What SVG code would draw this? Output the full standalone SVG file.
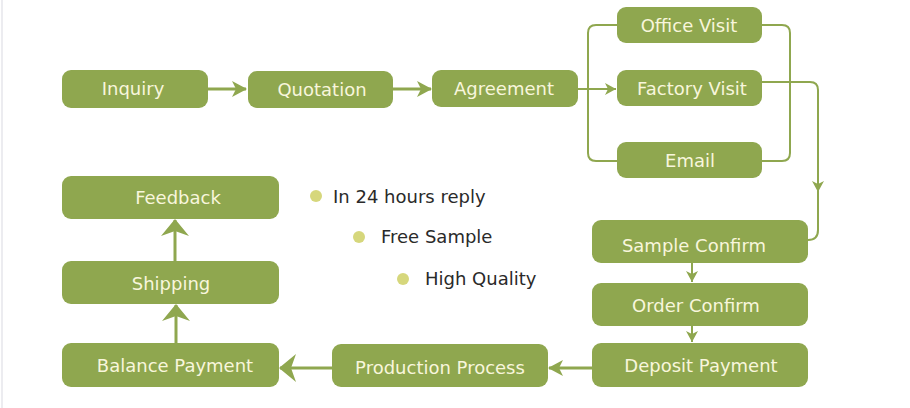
<svg xmlns="http://www.w3.org/2000/svg" width="910" height="408" viewBox="0 0 910 408">
<style>
.box{fill:#8fa74f}
.lbl{font-family:"DejaVu Sans","Liberation Sans",sans-serif;font-size:18px;fill:#f8f6dc;text-anchor:middle;dominant-baseline:central}
.txt{font-family:"DejaVu Sans","Liberation Sans",sans-serif;font-size:18px;fill:#2a2a2a}
.ln{fill:none;stroke:#8fa74f;stroke-width:3}
.thin{fill:none;stroke:#8fa74f;stroke-width:2}
.dot{fill:#d6d77c}
</style>
<defs>
<marker id="ah" markerUnits="userSpaceOnUse" markerWidth="16" markerHeight="18" refX="14" refY="9" orient="auto">
<path d="M0,1 L15,9 L0,17 L4,9 z" fill="#8fa74f"/>
</marker>
<marker id="ahBig" markerUnits="userSpaceOnUse" markerWidth="18" markerHeight="30" refX="16" refY="15" orient="auto">
<path d="M0,1 L17,15 L0,29 L5,15 z" fill="#8fa74f"/>
</marker>
<marker id="ahSm" markerUnits="userSpaceOnUse" markerWidth="12" markerHeight="14" refX="11" refY="7" orient="auto">
<path d="M0,1 L11,7 L0,13 L3,7 z" fill="#8fa74f"/>
</marker>
</defs>
<rect width="910" height="408" fill="#ffffff"/>
<line x1="2" y1="0" x2="2" y2="408" stroke="#ececf0" stroke-width="2"/>

<g id="connectors">
<line class="ln" x1="208" y1="89" x2="246" y2="89" marker-end="url(#ah)"/>
<line class="ln" x1="393" y1="89" x2="431" y2="89" marker-end="url(#ah)"/>
<line class="thin" x1="578" y1="89" x2="616" y2="89" marker-end="url(#ahSm)"/>
<path class="thin" d="M617,25 H596 Q588,25 588,33 V153 Q588,161 596,161 H617"/>
<path class="thin" d="M762,25 H782 Q790,25 790,33 V153 Q790,161 782,161 H762"/>
<path class="thin" d="M762,82 H810 Q818,82 818,90 V192" marker-end="url(#ahSm)"/>
<path class="thin" d="M818,188 V230 Q818,240 808,240"/>
<line class="thin" x1="692" y1="263" x2="692" y2="282" marker-end="url(#ahSm)"/>
<line class="thin" x1="692" y1="326" x2="692" y2="342" marker-end="url(#ahSm)"/>
<line class="ln" x1="592" y1="368" x2="549" y2="368" marker-end="url(#ah)"/>
<line class="ln" x1="332" y1="368" x2="280" y2="368" marker-end="url(#ahBig)"/>
<line class="ln" x1="176" y1="343" x2="176" y2="305" marker-end="url(#ahBig)"/>
<line class="ln" x1="175" y1="261" x2="175" y2="220" marker-end="url(#ahBig)"/>
</g>

<g id="inquiry"><rect class="box" x="62" y="70" width="146" height="38" rx="9"/><text class="lbl" x="133" y="88">Inquiry</text></g>
<g id="quotation"><rect class="box" x="248" y="71" width="145" height="37" rx="9"/><text class="lbl" x="322" y="89">Quotation</text></g>
<g id="agreement"><rect class="box" x="432" y="70" width="146" height="37" rx="9"/><text class="lbl" x="504" y="88">Agreement</text></g>
<g id="office-visit"><rect class="box" x="617" y="7" width="145" height="36" rx="9"/><text class="lbl" x="689" y="25">Office Visit</text></g>
<g id="factory-visit"><rect class="box" x="617" y="70" width="145" height="36" rx="9"/><text class="lbl" x="692" y="88">Factory Visit</text></g>
<g id="email"><rect class="box" x="617" y="142" width="145" height="36" rx="9"/><text class="lbl" x="690" y="160">Email</text></g>
<g id="sample-confirm"><rect class="box" x="592" y="220" width="216" height="43" rx="9"/><text class="lbl" x="694" y="245">Sample Confirm</text></g>
<g id="order-confirm"><rect class="box" x="592" y="283" width="216" height="43" rx="9"/><text class="lbl" x="696" y="305">Order Confirm</text></g>
<g id="deposit-payment"><rect class="box" x="592" y="343" width="216" height="44" rx="9"/><text class="lbl" x="701" y="365">Deposit Payment</text></g>
<g id="production-process"><rect class="box" x="332" y="344" width="216" height="43" rx="9"/><text class="lbl" x="440" y="367">Production Process</text></g>
<g id="balance-payment"><rect class="box" x="62" y="343" width="217" height="44" rx="9"/><text class="lbl" x="175" y="365">Balance Payment</text></g>
<g id="shipping"><rect class="box" x="62" y="261" width="217" height="43" rx="9"/><text class="lbl" x="171" y="283">Shipping</text></g>
<g id="feedback"><rect class="box" x="62" y="176" width="217" height="43" rx="9"/><text class="lbl" x="178" y="197">Feedback</text></g>

<g id="bullets">
<circle class="dot" cx="316" cy="196" r="6"/>
<text class="txt" x="333" y="203">In 24 hours reply</text>
<circle class="dot" cx="359" cy="237" r="6"/>
<text class="txt" x="381" y="243">Free Sample</text>
<circle class="dot" cx="403" cy="279" r="6"/>
<text class="txt" x="425" y="285">High Quality</text>
</g>
</svg>
